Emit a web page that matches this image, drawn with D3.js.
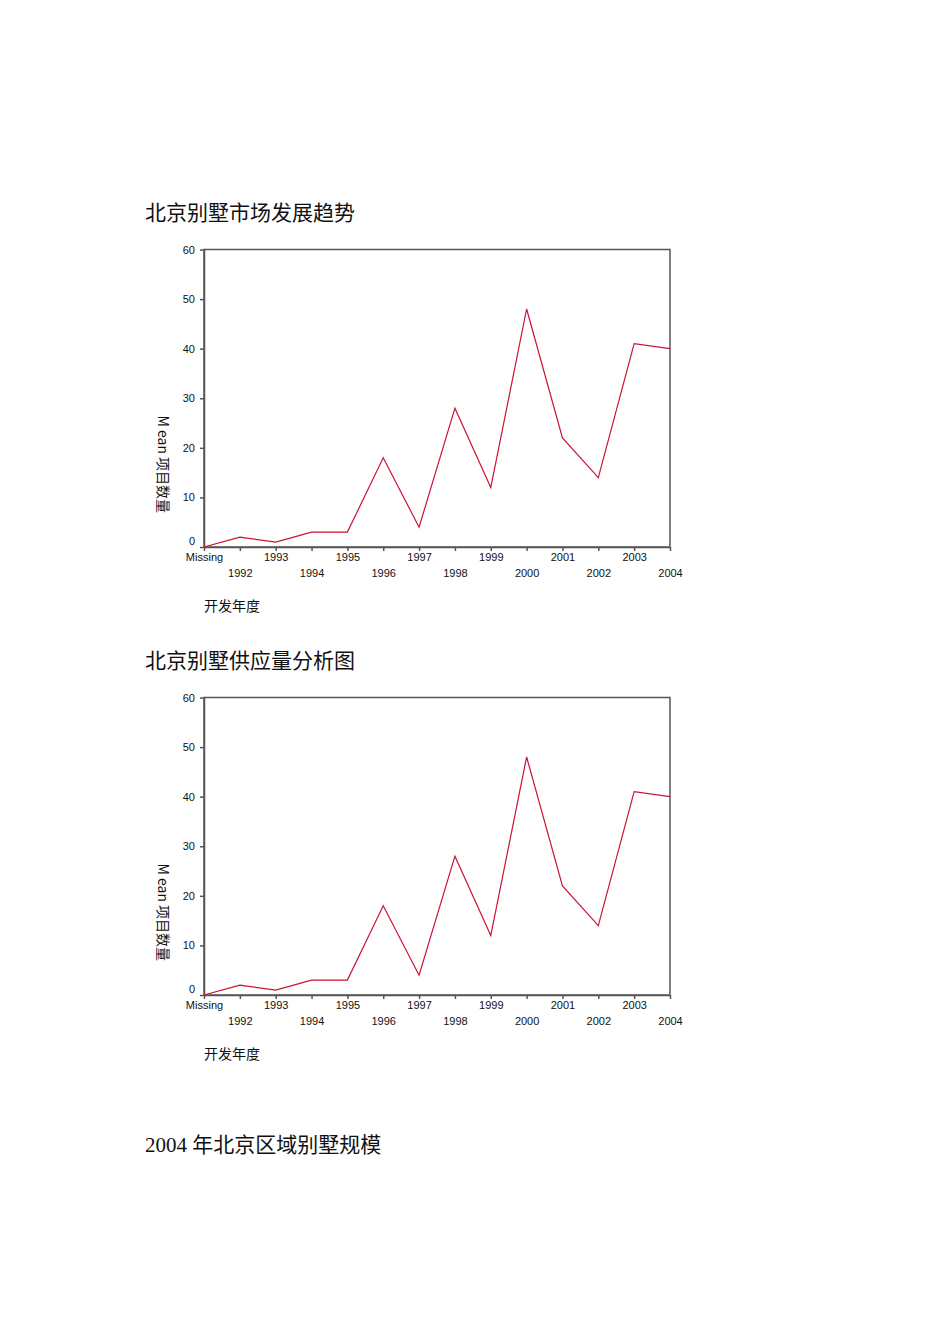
<!DOCTYPE html>
<html>
  <head>
    <meta charset="utf-8"/>
    <title>北京别墅</title>
    <script src="https://cdnjs.cloudflare.com/ajax/libs/d3/7.8.5/d3.min.js"></script>
    <style>
      body { margin: 0; background: #fff; }
      .title { font-family: "Liberation Serif", "Noto Sans CJK SC"; font-size: 21px; fill: #111; }
      .tick text { font-family: "Liberation Sans", sans-serif; font-size: 11px; fill: #111; }
      .axis path, .axis line { stroke: #555; stroke-width: 1.5px; }
      .frame { fill: none; stroke: #555; stroke-width: 1.5px; }
      .line { fill: none; stroke: #cc1133; stroke-width: 1.2px; }
      .axtitle { font-family: "Noto Sans CJK SC", sans-serif; font-size: 14px; fill: #111; }
    </style>
  </head>
  <body>
    <script>
      // data
      var years = ["Missing", "1992", "1993", "1994", "1995", "1996", "1997",
                   "1998", "1999", "2000", "2001", "2002", "2003", "2004"];
      var projectCounts = [0, 2, 1, 3, 3, 18, 4, 28, 12, 48, 22, 14, 41, 40];
      var yTicks = [0, 10, 20, 30, 40, 50, 60];
      var chartTitles = ["北京别墅市场发展趋势", "北京别墅供应量分析图"];
      var lastTitle = "2004 年北京区域别墅规模";

      var width = 950, height = 1344;
      var left = 204, right = 670, plotH = 297.5;
      var chartTops = [249.5, 697.5];

      var svg = d3.select("body").append("svg")
        .attr("width", width)
        .attr("height", height);

      var xScale = d3.scalePoint().domain(years).range([left, right]);
      var yScale = d3.scaleLinear().domain([0, 60]).range([plotH, 0]);

      function drawChart(top, title){
        svg.append("text").attr("class", "title")
          .attr("x", 145).attr("y", top - 30)
          .text(title);

        var g = svg.append("g").attr("transform", "translate(0," + top + ")");

        g.append("rect").attr("class", "frame")
          .attr("x", left).attr("y", 0)
          .attr("width", right - left).attr("height", plotH);

        var yAxis = g.append("g").attr("class", "axis")
          .attr("transform", "translate(" + left + ",0)")
          .call(d3.axisLeft(yScale).tickValues(yTicks).tickSize(4).tickSizeOuter(0).tickPadding(5));
        yAxis.selectAll(".tick text")
          .attr("dy", function (d){ return d === 0 ? "-0.2em" : "0.32em"; });

        var xAxis = g.append("g").attr("class", "axis")
          .attr("transform", "translate(0," + plotH + ")")
          .call(d3.axisBottom(xScale).tickSize(4).tickSizeOuter(0).tickPadding(3));
        xAxis.selectAll(".tick text")
          .attr("y", function (d, i){ return i % 2 === 0 ? 6 : 22; })
          .attr("dy", "0.71em");

        var line = d3.line()
          .x(function (d, i){ return xScale(years[i]); })
          .y(function (d){ return yScale(d); });

        g.append("path").datum(projectCounts)
          .attr("class", "line")
          .attr("d", line);

        // y title reads top to bottom
        g.append("text").attr("class", "axtitle")
          .attr("transform", "translate(158,166) rotate(90)")
          .text("M ean 项目数量");

        g.append("text").attr("class", "axtitle")
          .attr("x", left).attr("y", plotH + 64)
          .text("开发年度");
      }

      chartTitles.forEach(function (t, i){ drawChart(chartTops[i], t); });

      svg.append("text").attr("class", "title")
        .attr("x", 145).attr("y", 1152)
        .text(lastTitle);
    </script>
  </body>
</html>
